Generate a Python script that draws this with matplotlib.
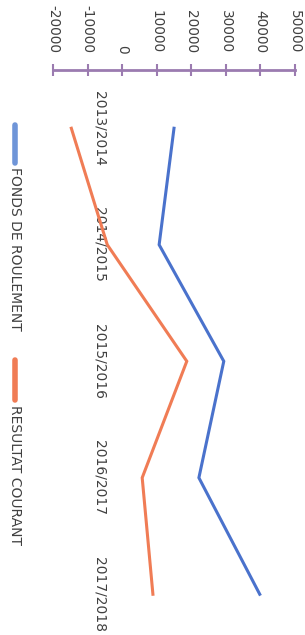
import matplotlib.pyplot as plt
from matplotlib.lines import Line2D

# Chart data
categories = ["2013/2014", "2014/2015", "2015/2016", "2016/2017", "2017/2018"]
fondsRoulement = [15000, 10700, 29400, 22200, 39800]
resultatCourant = [-14700, -4300, 18700, 5800, 8900]
valueTicks = [-20000, -10000, 0, 10000, 20000, 30000, 40000, 50000]
seriesNames = ["FONDS DE ROULEMENT", "RESULTAT COURANT"]

blue = "#4a72cc"
orange = "#f07c55"
axisColor = "#9b7bb0"
textColor = "#404040"

fig = plt.figure(figsize=(3.05, 6.35), dpi=100)
ax = fig.add_axes([53 / 305, 0, 242 / 305, 565 / 635])

# The chart is drawn turned a quarter turn: values run left to right, categories top to bottom
positions = list(range(len(categories)))
ax.plot(fondsRoulement, positions, color=blue, lw=2.2, solid_joinstyle="miter")
ax.plot(resultatCourant, positions, color=orange, lw=2.2, solid_joinstyle="miter")

ax.set_xlim(valueTicks[0], valueTicks[-1])
ax.set_ylim(-0.5 + 565 / 116.5, -0.5)

# Value axis on top
ax.xaxis.tick_top()
ax.set_xticks(valueTicks)
ax.set_xticklabels([str(v) for v in valueTicks], rotation=-90, ha="center", va="bottom",
                   fontsize=9.8, color=textColor)
ax.tick_params(axis="x", direction="inout", length=8, width=1.5, color=axisColor, pad=8)
for side in ["right", "bottom"]:
    ax.spines[side].set_visible(False)
ax.spines["top"].set_color(axisColor)
ax.spines["top"].set_linewidth(2)

# Category labels sit next to the zero line
ax.spines["left"].set_position(("data", 0))
ax.spines["left"].set_visible(False)
ax.set_yticks(positions)
ax.set_yticklabels(categories, rotation=-90, va="center", fontsize=10, color=textColor)
ax.tick_params(axis="y", length=0, pad=11)

# Hand-made legend, turned like the rest
fig.add_artist(Line2D([15 / 305, 15 / 305], [1 - 125 / 635, 1 - 163 / 635], color="#6f95d8",
                      lw=4, solid_capstyle="round"))
fig.text(15 / 305, 1 - 167 / 635, seriesNames[0], rotation=-90, ha="center", va="top",
         fontsize=10, color=textColor)
fig.add_artist(Line2D([15 / 305, 15 / 305], [1 - 360 / 635, 1 - 400 / 635], color=orange,
                      lw=4, solid_capstyle="round"))
fig.text(15 / 305, 1 - 405 / 635, seriesNames[1], rotation=-90, ha="center", va="top",
         fontsize=10, color=textColor)

fig.savefig("out.png", dpi=100)
